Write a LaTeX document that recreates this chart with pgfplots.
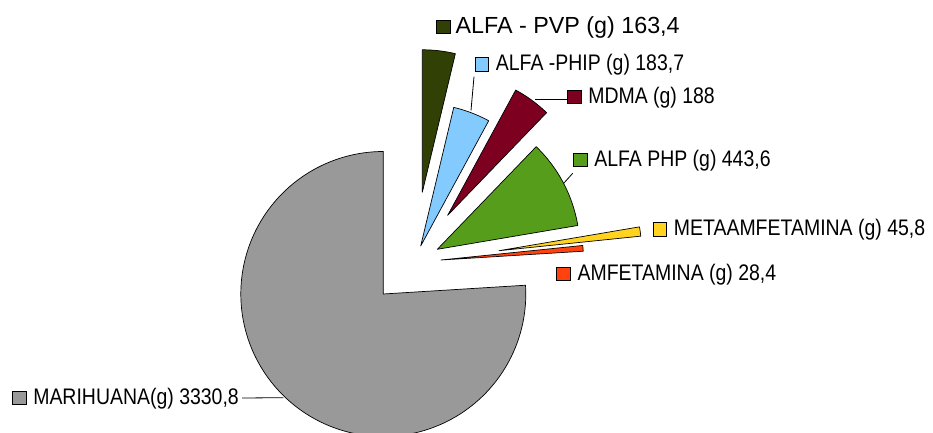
\documentclass[border=0pt]{standalone}
\usepackage{fontspec}
\setmainfont{Liberation Sans}
\newfontfamily\narrowfont[FakeStretch=0.865]{Liberation Sans}
\usepackage{pgfplots}
\pgfplotsset{compat=1.18}
\definecolor{cMar}{HTML}{999999}
\definecolor{cAmf}{HTML}{FF420E}
\definecolor{cMeta}{HTML}{FFD320}
\definecolor{cPhp}{HTML}{579D1C}
\definecolor{cMdma}{HTML}{7E0021}
\definecolor{cPhip}{HTML}{83CAFF}
\definecolor{cPvp}{HTML}{314004}
\newcommand{\key}[1]{{\setlength{\fboxsep}{0pt}\setlength{\fboxrule}{0.8pt}\fcolorbox{black}{#1}{\rule{0pt}{12.8pt}\rule{12.8pt}{0pt}}}}
% #1 colour, #2 sum of the values before, #3 value, #4,#5 apex, #6 samples
\newcommand{\pieslice}[6]{%
  \addplot[fill=#1, draw=black, line width=0.7pt, line join=round,
    domain=90+360*#2/4383.7:90+360*(#2+#3)/4383.7, samples=#6, variable=\t]
    ({#4+142.5*cos(\t)},{#5+142.5*sin(\t)}) -- (axis cs:#4,#5) -- cycle;
}
\begin{document}
\begin{tikzpicture}
\begin{axis}[
  width=933pt, height=433pt, scale only axis,
  xmin=0, xmax=933, ymin=0, ymax=433,
  hide axis, clip=true]
% values: MARIHUANA 3330.8, AMFETAMINA 28.4, METAAMFETAMINA 45.8,
% ALFA PHP 443.6, MDMA 188, ALFA-PHIP 183.7, ALFA-PVP 163.4 (total 4383.7)
\pieslice{cMar}{0}{3330.8}{383.3}{139}{140}
\pieslice{cAmf}{3330.8}{28.4}{441}{173}{6}
\pieslice{cMeta}{3359.2}{45.8}{499}{182.3}{8}
\pieslice{cPhp}{3405}{443.6}{437.3}{183.7}{40}
\pieslice{cMdma}{3848.6}{188}{447.7}{217.7}{20}
\pieslice{cPhip}{4036.6}{183.7}{420.7}{187}{20}
\pieslice{cPvp}{4220.3}{163.4}{422.3}{240.7}{20}
% leader lines
\addplot[black, line width=0.8pt] coordinates {(474,356.3) (471,322.5)};
\addplot[black, line width=0.8pt] coordinates {(535,334) (566.7,334)};
\addplot[black, line width=0.8pt] coordinates {(572.7,259.7) (563.7,249.7)};
\addplot[black, line width=0.8pt] coordinates {(242,35) (283.3,35.3)};
% labels
\node[anchor=base west, inner sep=0pt, font=\fontsize{23.3}{24}\selectfont] at (axis cs:436,399.7) {\key{cPvp}\hspace{5pt}ALFA - PVP (g) 163,4};
\node[anchor=base west, inner sep=0pt, font=\narrowfont\fontsize{22.5}{24}\selectfont] at (axis cs:474.3,362.3) {\key{cPhip}\hspace{7pt}ALFA -PHIP (g) 183,7};
\node[anchor=base west, inner sep=0pt, font=\narrowfont\fontsize{22.5}{24}\selectfont] at (axis cs:566.7,329.7) {\key{cMdma}\hspace{7pt}MDMA (g) 188};
\node[anchor=base west, inner sep=0pt, font=\narrowfont\fontsize{22.5}{24}\selectfont] at (axis cs:572.7,266.5) {\key{cPhp}\hspace{7pt}ALFA PHP (g) 443,6};
\node[anchor=base west, inner sep=0pt, font=\narrowfont\fontsize{22.5}{24}\selectfont] at (axis cs:652.3,197) {\key{cMeta}\hspace{7pt}METAAMFETAMINA (g) 45,8};
\node[anchor=base west, inner sep=0pt, font=\narrowfont\fontsize{22.5}{24}\selectfont] at (axis cs:556,152.5) {\key{cAmf}\hspace{7pt}AMFETAMINA (g) 28,4};
\node[anchor=base west, inner sep=0pt, font=\narrowfont\fontsize{22.5}{24}\selectfont] at (axis cs:11.7,28.7) {\key{cMar}\hspace{7pt}MARIHUANA(g) 3330,8};
\end{axis}
\path (current axis.south west) rectangle (current axis.north east);
\end{tikzpicture}
\end{document}
